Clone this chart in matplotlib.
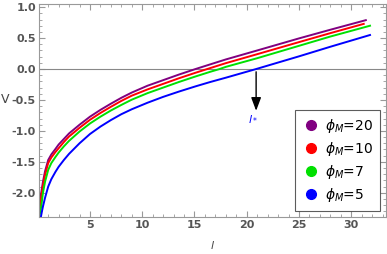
import numpy as np
import matplotlib
matplotlib.use("Agg")
import matplotlib.pyplot as plt
from matplotlib.ticker import MultipleLocator
from matplotlib.lines import Line2D

plt.rcParams["axes.unicode_minus"] = False

# data
l_purple = [0.15, 0.25, 0.35, 0.5, 0.7, 1, 1.3, 1.7, 2, 2.5, 3, 4, 5, 6, 7, 8, 9, 10.5, 12, 13.5, 15.1, 16.5, 18, 21, 25, 28, 31.4]
v_purple = [-2.2, -2.08, -1.98, -1.82, -1.65, -1.47, -1.38, -1.29, -1.22, -1.13, -1.04, -0.90, -0.77, -0.66, -0.56, -0.465,
            -0.38, -0.27, -0.18, -0.09, 0.0, 0.075, 0.155, 0.30, 0.495, 0.635, 0.79]

l_red = [0.15, 0.25, 0.35, 0.5, 0.7, 1, 1.3, 1.7, 2, 2.5, 3, 4, 5, 6, 7, 8, 9, 10.5, 12, 13.5, 15.1, 16.5, 18, 21, 25, 28, 31.2]
v_red = [-2.3, -2.17, -2.05, -1.88, -1.71, -1.52, -1.43, -1.34, -1.28, -1.18, -1.09, -0.95, -0.82, -0.71, -0.61, -0.515,
         -0.43, -0.33, -0.24, -0.15, -0.06, 0.015, 0.095, 0.24, 0.435, 0.58, 0.73]

l_green = [0.15, 0.25, 0.35, 0.5, 0.7, 1, 1.3, 1.7, 2, 2.5, 3, 4, 5, 6, 7, 8, 9, 10.5, 12, 13.5, 15.1, 16.5, 17.4, 18, 21, 25, 28, 31.8]
v_green = [-2.38, -2.3, -2.2, -2.0, -1.82, -1.63, -1.52, -1.42, -1.35, -1.25, -1.16, -1.01, -0.88, -0.77, -0.67, -0.58,
           -0.495, -0.39, -0.30, -0.21, -0.12, -0.045, 0.0, 0.035, 0.175, 0.375, 0.525, 0.70]

l_blue = [0.3, 0.4, 0.5, 0.7, 1, 1.3, 1.7, 2, 2.5, 3, 4, 5, 6, 7, 8, 9, 10.5, 12, 13.5, 15.1, 16.5, 18, 20.9, 25, 28, 31.8]
v_blue = [-2.39, -2.3, -2.22, -2.08, -1.90, -1.78, -1.66, -1.58, -1.47, -1.37, -1.20, -1.05, -0.93, -0.825, -0.73, -0.65,
          -0.545, -0.45, -0.365, -0.28, -0.21, -0.14, 0.0, 0.205, 0.36, 0.55]

l_star = 20.9
labels = [r"$\phi_M$=20", r"$\phi_M$=10", r"$\phi_M$=7", r"$\phi_M$=5"]
colors = ["#800080", "#ff0000", "#00e000", "#0000ff"]

fig = plt.figure(figsize=(3.87, 2.54), dpi=100)
ax = fig.add_axes([0.1016, 0.146, 0.895, 0.838])

ax.axhline(0, color="#888888", lw=0.8)
for (lx, vy), c in zip([(l_purple, v_purple), (l_red, v_red), (l_green, v_green), (l_blue, v_blue)], colors):
    ax.plot(lx, vy, color=c, lw=1.4)

ax.annotate("", xy=(l_star, -0.72), xytext=(l_star, 0.0),
            arrowprops=dict(arrowstyle="-|>,head_width=0.3,head_length=0.8", color="black", lw=1.0))
ax.text(l_star - 0.3, -0.8, r"$l_*$", color="blue", fontsize=8, ha="center", va="center")

ax.set_xlim(0.15, 33.3)
ax.set_ylim(-2.39, 1.05)
ax.xaxis.set_major_locator(MultipleLocator(5))
ax.xaxis.set_minor_locator(MultipleLocator(1))
ax.yaxis.set_major_locator(MultipleLocator(0.5))
ax.yaxis.set_minor_locator(MultipleLocator(0.1))
ax.tick_params(which="both", direction="in", top=True, right=True, color="#999999",
               labelcolor="#555555", labelsize=8, pad=2.5)
ax.tick_params(which="major", length=4)
ax.tick_params(which="minor", length=2)
for lab in ax.get_xticklabels() + ax.get_yticklabels():
    lab.set_fontweight("bold")
for s in ax.spines.values():
    s.set_color("#999999")
    s.set_linewidth(0.8)

ax.set_xlabel(r"$l$", fontsize=8, color="#444444")
ax.xaxis.set_label_coords(0.5, -0.105)
ax.set_ylabel("V", fontsize=9, color="#444444", rotation=0, ha="center", va="center")
ax.yaxis.set_label_coords(-0.1, 0.55)

handles = [Line2D([], [], ls="none", marker="o", color=c, markersize=7) for c in colors]
leg = ax.legend(handles, labels, loc="lower right", bbox_to_anchor=(0.985, 0.03),
                fontsize=10, frameon=True, fancybox=False, edgecolor="#333333",
                handletextpad=0.3, borderpad=0.5, labelspacing=0.35, handlelength=1.4,
                borderaxespad=0)
leg.get_frame().set_linewidth(0.8)

fig.savefig("out.png", dpi=100)
